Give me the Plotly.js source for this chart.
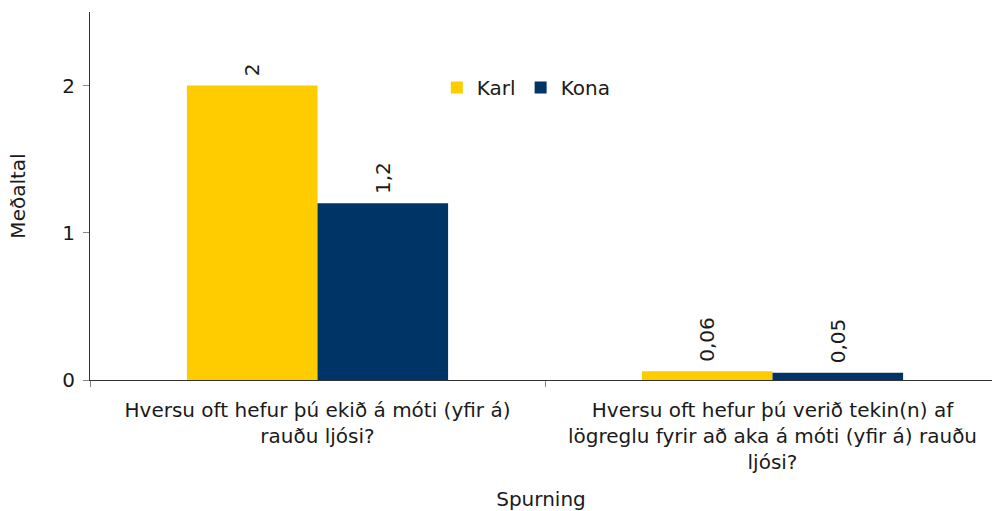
<!DOCTYPE html>
<html>
<head>
<meta charset="utf-8">
<script src="https://cdn.plot.ly/plotly-3.0.1.min.js"></script>
<style>html,body{margin:0;padding:0;background:#fff}#chart{width:992px;height:511px}</style>
</head>
<body>
<div id="chart"></div>
<script>
const categories = [
  "Hversu oft hefur þú ekið á móti (yfir á)<br>rauðu ljósi?",
  "Hversu oft hefur þú verið tekin(n) af<br>lögreglu fyrir að aka á móti (yfir á) rauðu<br>ljósi?"
];
const karlValues = [2, 0.06];
const konaValues = [1.2, 0.05];
const karlLabels = ["2", "0,06"];
const konaLabels = ["1,2", "0,05"];
const yTickVals = [0, 1, 2];

const font = "DejaVu Sans, Verdana, sans-serif";
const textColor = "#1a1a1a";
const fs = 20;
const pad = s => "\u00a0" + s;

const traces = [
  {type: "bar", name: "Karl", x: categories, y: karlValues, text: karlLabels.map(pad),
   textposition: "outside", textangle: -90, cliponaxis: false,
   textfont: {family: font, size: fs, color: textColor},
   marker: {color: "#FFCC00"}, hoverinfo: "none"},
  {type: "bar", name: "Kona", x: categories, y: konaValues, text: konaLabels.map(pad),
   textposition: "outside", textangle: -90, cliponaxis: false,
   textfont: {family: font, size: fs, color: textColor},
   marker: {color: "#003366"}, hoverinfo: "none"}
];

const layout = {
  width: 992, height: 511,
  margin: {l: 90, r: 0, t: 12, b: 131},
  paper_bgcolor: "#fff", plot_bgcolor: "#fff",
  font: {family: font, size: fs, color: textColor},
  barmode: "group", bargap: 0.426, bargroupgap: 0,
  showlegend: true,
  legend: {orientation: "h", x: 0.3845, y: 0.848, xanchor: "left", yanchor: "top",
           font: {family: font, size: fs, color: textColor}, bgcolor: "rgba(0,0,0,0)",
           itemwidth: 30, tracegroupgap: 0},
  xaxis: {
    type: "category", range: [-0.5, 1.4824],
    showline: true, linecolor: "#333", linewidth: 1,
    ticks: "outside", tickson: "boundaries", ticklen: 6, tickcolor: "#888",
    showgrid: false, zeroline: false, ticklabelstandoff: 12,
    tickfont: {family: font, size: fs, color: textColor},
    title: {text: "Spurning", font: {family: font, size: fs, color: textColor}, standoff: 20}
  },
  yaxis: {
    range: [0, 2.5], tickvals: yTickVals, ticktext: yTickVals.map(String),
    showline: true, linecolor: "#333", linewidth: 1,
    ticks: "outside", ticklen: 6, tickcolor: "#888",
    showgrid: false, zeroline: false, ticklabelstandoff: 4,
    tickfont: {family: font, size: fs, color: textColor},
    title: {text: "Meðaltal", font: {family: font, size: fs, color: textColor}, standoff: 31}
  }
};

Plotly.newPlot("chart", traces, layout, {displayModeBar: false, staticPlot: true});
</script>
</body>
</html>
